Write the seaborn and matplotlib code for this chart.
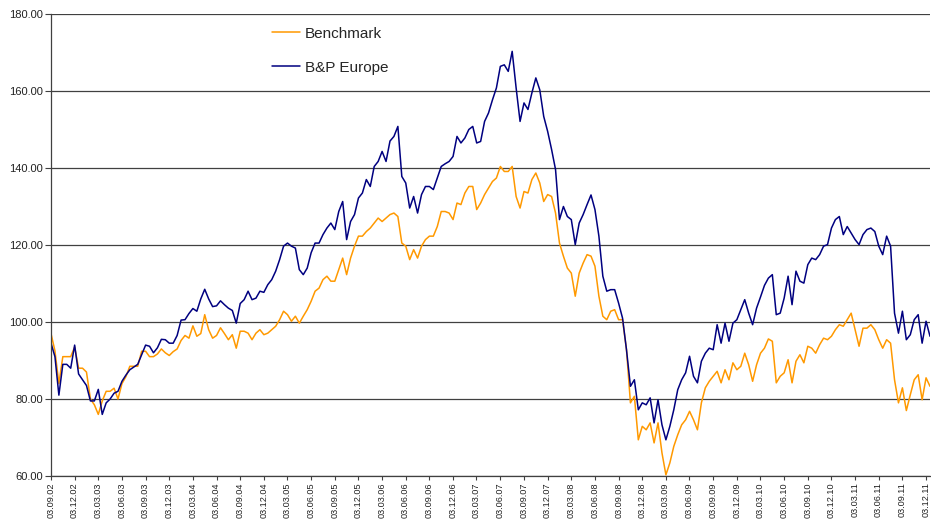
import numpy as np
import pandas as pd
import seaborn as sns
import matplotlib.pyplot as plt
from matplotlib.ticker import FormatStrFormatter

# semi-monthly readings from 03.09.02 onwards
start = "2002-09-03"

benchmark = [
    97, 92.5, 84, 91, 91, 91, 93.5, 88, 88, 87, 80, 78.5, 76, 79.5, 82, 82, 82.8, 80, 84, 85.8,
    88.5, 88.5, 88.5, 92.4, 92.4, 91, 91, 91.7, 93, 92, 91.3, 92.3, 93, 95.2, 96.5, 95.8, 99, 96.3,
    97, 101.9, 98, 95.8, 96.5, 98.5, 97, 95.4, 96.7,
    93.2, 97.6, 97.6, 97.1, 95.4, 97.1, 98, 96.7, 97.1, 98, 98.9, 100.6, 102.8, 101.9, 100.2, 101.5,
    99.7, 101.5, 103.2, 105.4, 108, 108.8, 111, 111.9, 110.6, 110.6, 113.6, 116.6, 112.3, 116.6,
    119.7, 122.3, 122.3, 123.5, 124.4, 125.7, 127, 126.1, 127, 127.9, 128.3, 127.4, 120.5, 119.7,
    116.2, 118.8,
    116.6, 119.7, 121.4, 122.3, 122.3, 124.8, 128.7, 128.7, 128.3, 126.6, 130.9, 130.5, 133.5, 135.2,
    135.2, 129.2, 130.9, 133.1, 134.8, 136.5, 137.4, 140.4, 139.1, 139.1, 140.4, 132.6, 129.6, 133.9,
    133.5, 137, 138.7, 136.1, 131.3, 133.1, 132.6, 128.3, 120.5, 117.1, 114, 112.7, 106.7, 112.7, 115.3,
    117.5, 117.1, 114.5, 106.7, 101.5, 100.6, 102.8, 103.2, 100.6, 100.6, 92.8, 79, 80.7, 69.4, 72.9,
    72, 73.8, 68.6, 73.8, 66, 60.3, 63.4, 67.7, 70.7, 73.3, 74.6, 76.8, 74.6, 72, 79, 82.9, 84.6, 85.9,
    87.2, 84.2, 87.6, 85, 89.4, 87.6, 88.5, 91.9, 88.9, 84.6, 88.9, 91.9, 93.2, 95.6, 95,
    84.2, 85.9, 86.8, 90.2, 84.2, 89.8, 91.5, 89.4, 93.7, 93.2, 91.9, 94.1, 95.8, 95.4, 96.3, 98,
    99.3, 98.9, 100.6, 102.3, 98, 93.7, 98.4, 98.4, 99.3, 98, 95.4, 93.2, 95.4, 94.5, 85, 79, 82.9,
    77, 81.1, 85, 86.3, 79.8, 85.5, 83.3,
]

bp_europe = [
    94.5, 91, 81, 89, 89, 88, 94, 86.5, 85, 83.5, 79.5, 79.5, 82.5, 76, 79, 80, 81.5, 82, 84.6, 86.2,
    87.6, 88.3, 89, 91.5, 94, 93.7, 92, 93.3, 95.5, 95.4, 94.5, 94.5, 96.5, 100.5, 100.6, 102.2, 103.5,
    102.8, 106, 108.5, 106, 104, 104.2, 105.5, 104.5, 103.6, 103,
    99.7, 104.8, 105.8, 108, 105.8, 106.2, 108, 107.7, 109.7, 111, 113.2, 116.2, 119.7, 120.5, 119.7,
    119.2, 113.6, 112.3, 114, 118, 120.5, 120.5, 122.7, 124.4, 125.7, 124, 128.7, 131.3, 121.4, 126.1,
    127.9, 132.2, 133.5, 137, 135.2, 140.4, 141.7, 144.3, 141.7, 147, 148.2, 150.8, 137.8, 136.1,
    129.6, 132.6,
    128.3, 133.1, 135.2, 135.2, 134.4, 137.4, 140.4, 141.1, 141.7, 143, 148.2, 146.5, 147.8, 150,
    150.8, 146.5, 146.9, 152.1, 154.3, 157.7, 160.8, 166.4, 166.8, 165.1, 170.3, 160.8, 152.1, 156.9,
    155.2, 159.5, 163.4, 160.3, 153.4, 149.5, 144.8, 139.6, 126.6, 130, 127.4, 126.6, 120.1, 125.7,
    127.9,
    130.5, 133, 129.2, 122.3, 111.9, 108, 108.4, 108.4, 104.9, 101, 92.8, 83.3, 85, 77.2, 79, 78.5,
    80.3, 73.8, 79.8, 73.3, 69.4, 72.9, 77.2, 82.4, 85, 86.8, 91.1, 85.9, 84.2, 89.8, 91.9, 93.2, 92.8,
    99.3, 94.5, 99.7, 95, 99.7, 100.6, 103.2, 105.8, 102.3, 99.3, 103.6, 106.5, 109.5, 111.4, 112.3,
    101.9, 102.3, 106.2, 111.9, 104.5, 113.2, 110.6, 110.1, 114.9, 116.6, 116.2, 117.5, 119.7, 120.1,
    124.4, 126.6, 127.4, 122.7, 124.8, 123.1, 121.4, 120.1, 122.7, 124, 124.4, 123.5, 119.7, 117.5,
    122.3, 119.7, 102.3, 97.1, 102.8, 95.4, 96.7, 100.6, 101.9, 94.5, 100.2, 96.3,
]

n = len(benchmark)
dates = pd.to_datetime(start) + pd.to_timedelta(np.arange(n) * 365.25 / 24, unit="D")

df = pd.DataFrame({
    "date": list(dates) + list(dates),
    "value": benchmark + bp_europe,
    "series": ["Benchmark"] * n + ["B&P Europe"] * n,
})

sns.set_style("white")
plt.rcParams["font.family"] = ["Liberation Sans", "DejaVu Sans"]

fig = plt.figure(figsize=(9.31, 5.19), dpi=100)
ax = fig.add_axes([51 / 931, 1 - 476 / 519, 879 / 931, 462 / 519])

colors = {"Benchmark": "#FF9900", "B&P Europe": "#000080"}
sns.lineplot(data=df, x="date", y="value", hue="series", palette=colors,
             linewidth=1.1, ax=ax)

# quarterly ticks on the 3rd
ticks = [pd.Timestamp(y, m, 3) for y in range(2002, 2012) for m in (3, 6, 9, 12)]
ticks = [t for t in ticks if pd.Timestamp(2002, 9, 1) <= t <= pd.Timestamp(2011, 12, 31)]
ax.set_xticks(ticks)
ax.set_xticklabels([t.strftime("%d.%m.%y") for t in ticks], rotation=90, fontsize=6.6)
ax.set_xlim(dates[0], dates[-1])

ax.set_ylim(60, 180)
ax.set_yticks(range(60, 181, 20))
ax.yaxis.set_major_formatter(FormatStrFormatter("%.2f"))
ax.tick_params(axis="y", labelsize=8, length=4, color="#404040", pad=2)
ax.tick_params(axis="x", length=3, color="#404040", pad=1.5)
ax.tick_params(axis="both", bottom=True, left=True, labelcolor="#222222")

ax.yaxis.grid(True, color="#404040", linewidth=0.9)
ax.xaxis.grid(False)
for side in ("top", "right"):
    ax.spines[side].set_visible(False)
for side in ("left", "bottom"):
    ax.spines[side].set_color("#404040")
    ax.spines[side].set_linewidth(0.9)

ax.set_xlabel("")
ax.set_ylabel("")

handles, labels = ax.get_legend_handles_labels()
ax.legend(handles, labels, loc="upper left", bbox_to_anchor=(0.2355, 1.002),
          frameon=False, fontsize=11, handlelength=1.85, labelspacing=1.3,
          handletextpad=0.3)

fig.savefig("out.png", dpi=100)
